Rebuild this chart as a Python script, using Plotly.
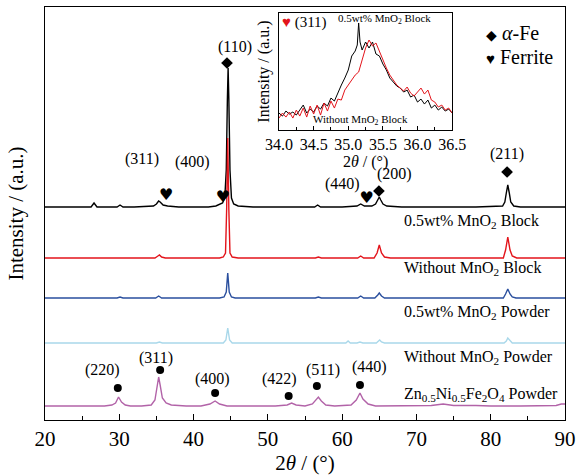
import plotly.graph_objects as go

# ---------------- data (2theta, intensity in arbitrary stacked units) ----------------
black_pts = [(20, 213), (22, 213), (24, 213), (26.2, 213), (26.6, 217), (27.0, 213), (28, 213),
             (29.7, 213), (30.1, 215), (30.5, 213), (32, 213), (34.6, 214), (35.0, 216), (35.3, 219),
             (35.5, 218), (35.9, 215), (36.5, 214), (38, 213), (40, 213), (42, 213), (43.0, 214),
             (43.4, 215), (43.9, 217), (44.2, 222), (44.4, 250), (44.55, 320), (44.65, 352),
             (44.75, 320), (44.9, 250), (45.1, 222), (45.4, 216), (46, 214), (48, 213), (50, 213),
             (52, 213), (54, 213), (56.3, 213), (56.7, 215), (57.1, 213), (58, 213), (60, 213),
             (62.0, 214), (62.5, 216), (63.0, 214), (64.0, 214), (64.5, 216), (64.8, 220), (65.0, 223),
             (65.2, 220), (65.5, 216), (66, 214), (68, 213), (70, 213), (74, 213), (78, 213), (81.6, 214),
             (81.9, 218), (82.1, 227), (82.3, 235), (82.5, 227), (82.7, 218), (83.1, 214), (84, 213),
             (88, 213), (90, 213)]
red_pts = [(20, 162), (25, 162), (30, 162), (34.8, 162), (35.2, 164), (35.4, 165), (35.7, 163),
           (36.2, 162), (40, 162), (43.5, 162), (44.0, 163), (44.3, 167), (44.45, 210), (44.6, 282),
           (44.75, 210), (44.9, 167), (45.2, 163), (46, 162), (50, 162), (56.4, 162), (56.8, 163),
           (57.2, 162), (62.1, 162), (62.5, 164), (62.9, 162), (64.3, 162), (64.7, 167), (65.0, 175),
           (65.3, 167), (65.7, 163), (66.5, 162), (70, 162), (75, 162), (81.7, 162), (82.0, 170),
           (82.3, 183), (82.6, 170), (82.9, 164), (83.5, 162), (90, 162)]
blue_pts = [(20, 122), (29.7, 122), (30.1, 123), (30.5, 122), (34.9, 122), (35.3, 124), (35.7, 122),
            (43.5, 122), (44.1, 123), (44.4, 128), (44.6, 147), (44.8, 128), (45.1, 123), (45.6, 122),
            (50, 122), (56.4, 122), (56.8, 123), (57.2, 122), (62.1, 122), (62.5, 124), (62.9, 122),
            (64.4, 122), (64.8, 125), (65.0, 127), (65.3, 124), (65.7, 122), (70, 122), (76, 122),
            (81.7, 122), (82.0, 126), (82.3, 131), (82.6, 126), (82.9, 123), (83.4, 122), (90, 122)]
lightblue_pts = [(20, 77), (35.0, 77), (35.4, 78), (35.8, 77), (44.0, 77), (44.35, 80), (44.6, 92),
                 (44.85, 80), (45.2, 77), (60.5, 77), (60.8, 79), (61.1, 77), (62.0, 77), (62.4, 78),
                 (62.8, 77), (64.6, 77), (64.9, 79), (65.05, 80), (65.3, 78), (65.7, 77), (81.8, 77),
                 (82.1, 79), (82.3, 82), (82.6, 79), (82.9, 77), (90, 77)]
purple_pts = [(20, 14), (24, 14), (28, 14), (29.0, 15), (29.5, 17), (29.9, 23), (30.3, 18), (30.8, 15),
              (31.5, 14), (33, 14), (34.3, 15), (34.8, 20), (35.1, 32), (35.3, 43), (35.5, 35),
              (35.8, 22), (36.3, 17), (37, 15), (39, 14), (41, 14), (42.2, 16), (42.9, 19), (43.5, 16),
              (44.5, 14), (48, 14), (51, 14), (52.6, 15), (53.2, 17), (53.8, 15), (55, 14), (56.0, 16),
              (56.5, 20), (56.8, 23), (57.2, 19), (57.8, 15), (59, 14), (61.2, 15), (61.9, 20),
              (62.4, 27), (62.8, 21), (63.5, 16), (64.5, 14), (67, 14), (70, 14), (72, 14.5),
              (73.6, 16), (75, 14.5), (78, 14.5), (80, 14), (84, 14), (87, 14), (88.8, 14.5),
              (89.5, 16), (90, 16)]

series_names = ["0.5wt% MnO<sub>2</sub> Block", "Without MnO<sub>2</sub> Block",
                "0.5wt% MnO<sub>2</sub> Powder", "Without MnO<sub>2</sub> Powder",
                "Zn<sub>0.5</sub>Ni<sub>0.5</sub>Fe<sub>2</sub>O<sub>4</sub> Powder"]
series_label_y = [199, 152, 108, 63, 26]

# peak markers: alpha-Fe (diamond), ferrite (heart), spinel (dot)
fe_x = [44.5, 64.95, 82.2]
fe_y = [357, 229, 248]
fe_labels = ["(110)", "(200)", "(211)"]
fe_label_x = [45.6, 67.1, 82.2]
fe_label_y = [373, 246, 266]

heart_x = [36.3, 43.95, 63.3]
heart_y = [224, 222, 221]
heart_labels = ["(311)", "(400)", "(440)"]
heart_label_x = [33.05, 39.9, 60.0]
heart_label_y = [261, 258, 236]

dot_x = [29.8, 35.5, 42.9, 52.8, 56.6, 62.4]
dot_y = [32, 50, 27, 24, 34, 35]
dot_labels = ["(220)", "(311)", "(400)", "(422)", "(511)", "(440)"]
dot_label_x = [27.8, 34.9, 42.5, 51.6, 57.4, 63.7]
dot_label_y = [50, 62, 41, 41, 50, 53]

# inset (zoom on ferrite (311))
inset_black = [(34.00, 17), (34.05, 14), (34.10, 19), (34.15, 16), (34.20, 18), (34.25, 15), (34.30, 20),
               (34.35, 25), (34.40, 17), (34.45, 21), (34.50, 18), (34.55, 24), (34.60, 21), (34.65, 27),
               (34.70, 24), (34.75, 32), (34.80, 29), (34.85, 38), (34.90, 45), (34.95, 52), (35.00, 60),
               (35.05, 74), (35.10, 79), (35.13, 85), (35.15, 107), (35.17, 88), (35.20, 80), (35.25, 88),
               (35.30, 82), (35.35, 88), (35.40, 76), (35.45, 74), (35.50, 66), (35.55, 60), (35.60, 52),
               (35.65, 48), (35.70, 44), (35.75, 42), (35.80, 38), (35.85, 40), (35.90, 33), (35.95, 35),
               (36.00, 28), (36.05, 31), (36.10, 26), (36.15, 30), (36.20, 22), (36.25, 25), (36.30, 20),
               (36.35, 23), (36.40, 19), (36.45, 21), (36.50, 17)]
inset_red = [(34.00, 12), (34.05, 17), (34.10, 13), (34.15, 18), (34.20, 12), (34.25, 20), (34.30, 14),
             (34.35, 22), (34.40, 13), (34.45, 24), (34.50, 16), (34.55, 25), (34.60, 15), (34.65, 27),
             (34.70, 19), (34.75, 29), (34.80, 22), (34.85, 31), (34.90, 30), (34.95, 40), (35.00, 45),
             (35.05, 50), (35.10, 55), (35.15, 58), (35.20, 70), (35.25, 82), (35.30, 90), (35.35, 84),
             (35.40, 87), (35.45, 78), (35.50, 70), (35.55, 62), (35.60, 55), (35.65, 50), (35.70, 45),
             (35.75, 42), (35.80, 39), (35.85, 43), (35.90, 37), (35.95, 34), (36.00, 38), (36.05, 42),
             (36.10, 36), (36.15, 40), (36.20, 30), (36.25, 28), (36.30, 23), (36.35, 25), (36.40, 20),
             (36.45, 22), (36.50, 17)]

# ---------------- figure ----------------
SERIF = "Liberation Serif, Times New Roman, serif"
colors = ["#000000", "#e3141b", "#2a4f9e", "#a9d8ea", "#b263a8"]
all_pts = [black_pts, red_pts, blue_pts, lightblue_pts, purple_pts]

fig = go.Figure()
for pts, c in zip(all_pts, colors):
    fig.add_trace(go.Scatter(x=[p[0] for p in pts], y=[p[1] for p in pts], mode="lines",
                             line=dict(color=c, width=1.4), showlegend=False, hoverinfo="skip"))

fig.add_trace(go.Scatter(x=fe_x, y=fe_y, mode="markers",
                         marker=dict(symbol="diamond", size=9, color="black"), showlegend=False))
fig.add_trace(go.Scatter(x=heart_x, y=heart_y, mode="text", text=["♥"] * len(heart_x),
                         textfont=dict(family="DejaVu Sans", size=16, color="black"), showlegend=False))
fig.add_trace(go.Scatter(x=dot_x, y=dot_y, mode="markers",
                         marker=dict(symbol="circle", size=8, color="black"), showlegend=False))

for pts, c in zip([inset_black, inset_red], ["#000000", "#e3141b"]):
    fig.add_trace(go.Scatter(x=[p[0] for p in pts], y=[p[1] for p in pts], mode="lines",
                             line=dict(color=c, width=1), xaxis="x2", yaxis="y2",
                             showlegend=False, hoverinfo="skip"))

ann = []
for t, yy in zip(series_names, series_label_y):
    ann.append(dict(x=68.0, y=yy, xref="x", yref="y", text=t, showarrow=False, xanchor="left",
                    font=dict(family=SERIF, size=16, color="black")))
for lx, ly, t in zip(fe_label_x + heart_label_x + dot_label_x,
                     fe_label_y + heart_label_y + dot_label_y,
                     fe_labels + heart_labels + dot_labels):
    ann.append(dict(x=lx, y=ly, xref="x", yref="y", text=t, showarrow=False,
                    font=dict(family=SERIF, size=16, color="black")))
# legend-like key
ann.append(dict(x=0.845, y=0.937, xref="paper", yref="paper", xanchor="left", yanchor="middle",
                showarrow=False,
                text="<span style='font-size:14px'>◆</span> <i>α</i>-Fe",
                font=dict(family=SERIF, size=20, color="black")))
ann.append(dict(x=0.845, y=0.88, xref="paper", yref="paper", xanchor="left", yanchor="middle",
                showarrow=False,
                text="<span style='font-size:15px'>♥</span> Ferrite",
                font=dict(family=SERIF, size=20, color="black")))
# inset texts
ann.append(dict(x=34.02, y=107, xref="x2", yref="y2", xanchor="left", showarrow=False,
                text="<span style='color:#e3141b'>♥</span> (311)",
                font=dict(family=SERIF, size=15, color="black")))
ann.append(dict(x=35.53, y=111, xref="x2", yref="y2", showarrow=False,
                text="0.5wt% MnO<sub>2</sub> Block", font=dict(family=SERIF, size=11, color="black")))
ann.append(dict(x=35.18, y=10, xref="x2", yref="y2", showarrow=False,
                text="Without MnO<sub>2</sub> Block", font=dict(family=SERIF, size=11, color="black")))

fig.update_layout(
    width=577, height=475,
    margin=dict(l=45, r=12, t=7, b=55),
    paper_bgcolor="white", plot_bgcolor="white",
    font=dict(family=SERIF, color="black"),
    annotations=ann,
    xaxis=dict(range=[20, 90], dtick=10, ticks="inside", ticklen=6, tickcolor="black",
               minor=dict(dtick=5, ticks="inside", ticklen=4, tickcolor="black"),
               showline=True, linecolor="black", linewidth=1, mirror=True,
               showgrid=False, zeroline=False, automargin=False,
               tickfont=dict(family=SERIF, size=21),
               title=dict(text="2<i>θ</i> / (°)", font=dict(family=SERIF, size=21), standoff=4)),
    yaxis=dict(range=[0, 413], showticklabels=False, ticks="", showline=True, linecolor="black",
               linewidth=1, mirror=True, showgrid=False, zeroline=False, automargin=False,
               title=dict(text="Intensity / (a.u.)", font=dict(family=SERIF, size=21), standoff=14)),
    xaxis2=dict(domain=[0.45, 0.783], anchor="y2", range=[34, 36.5], dtick=0.5, tickformat=".1f",
                ticks="inside", ticklen=4, tickcolor="black",
                minor=dict(dtick=0.25, ticks="inside", ticklen=3, tickcolor="black"),
                showline=True, linecolor="black", linewidth=1, mirror=True, automargin=False,
                showgrid=False, zeroline=False, tickfont=dict(family=SERIF, size=16),
                title=dict(text="2<i>θ</i> / (°)", font=dict(family=SERIF, size=16), standoff=2)),
    yaxis2=dict(domain=[0.702, 0.9855], anchor="x2", range=[0, 117], showticklabels=False, ticks="",
                showline=True, linecolor="black", linewidth=1, mirror=True, automargin=False,
                showgrid=False, zeroline=False,
                title=dict(text="Intensity / (a.u.)", font=dict(family=SERIF, size=16), standoff=4)),
)

fig.write_html("out.html", config={"displayModeBar": False},
               post_script="document.body.style.margin='0';")
